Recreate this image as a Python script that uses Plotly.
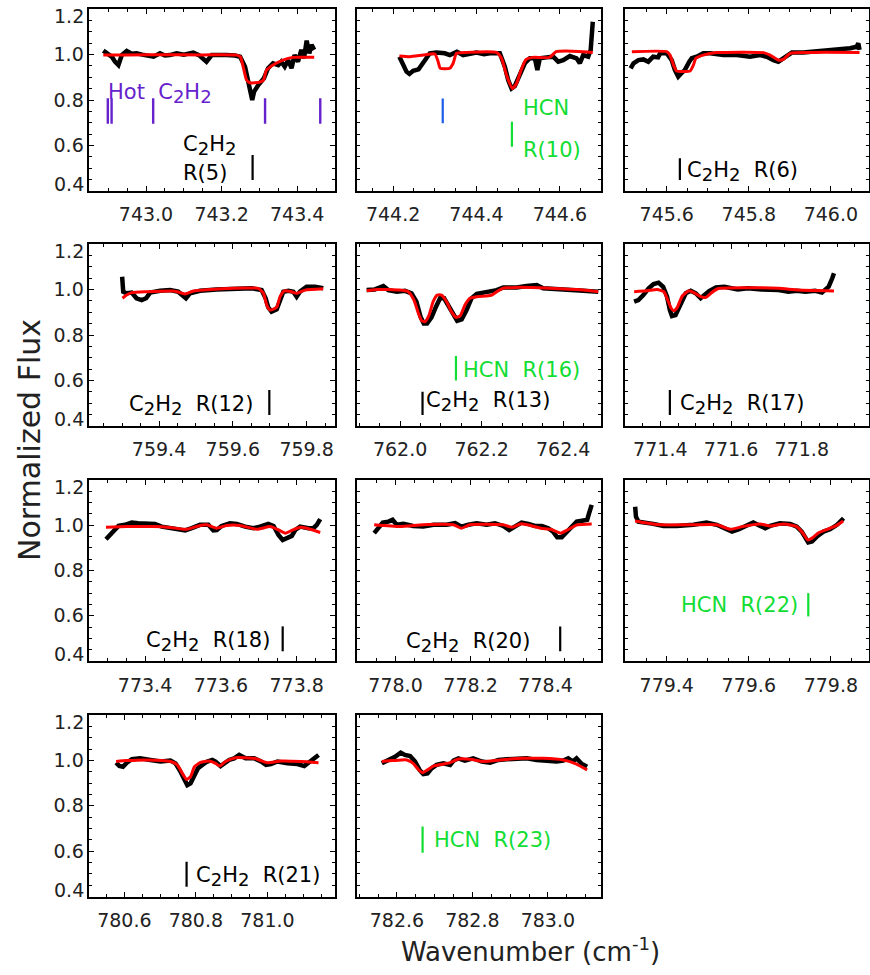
import plotly.graph_objects as go

# ---------------- data (wavenumber cm^-1, normalized flux) ----------------
p1_obs_x = [742.887, 742.893, 742.900, 742.910, 742.918, 742.927, 742.936, 742.949, 742.962, 742.975, 742.990, 743.002, 743.020, 743.037, 743.050, 743.063, 743.081, 743.100, 743.125, 743.140, 743.152, 743.160, 743.174, 743.195, 743.213, 743.235, 743.249, 743.262, 743.271, 743.277, 743.281, 743.286, 743.297, 743.312, 743.323, 743.336, 743.350, 743.358, 743.367, 743.376, 743.385, 743.393, 743.402, 743.411, 743.418, 743.425, 743.432, 743.438, 743.445]
p1_obs_y = [1.018, 1.010, 0.998, 0.990, 0.969, 0.954, 0.998, 1.016, 1.004, 1.006, 1.000, 0.998, 0.991, 1.006, 0.996, 0.998, 1.006, 1.000, 1.009, 0.998, 0.984, 0.969, 0.998, 1.000, 0.998, 0.996, 0.991, 0.947, 0.873, 0.829, 0.800, 0.837, 0.866, 0.896, 0.940, 0.962, 0.954, 0.969, 0.947, 0.976, 0.940, 0.998, 0.969, 1.021, 0.984, 1.062, 1.006, 1.043, 1.021]
p1_mod_x = [742.887, 742.950, 743.050, 743.150, 743.240, 743.250, 743.257, 743.266, 743.275, 743.300, 743.311, 743.318, 743.336, 743.362, 743.388, 743.445]
p1_mod_y = [0.998, 0.999, 1.000, 0.999, 0.998, 0.990, 0.947, 0.888, 0.876, 0.878, 0.888, 0.929, 0.954, 0.976, 0.988, 0.988]

p2_obs_x = [744.215, 744.225, 744.232, 744.239, 744.248, 744.261, 744.271, 744.281, 744.288, 744.304, 744.324, 744.336, 744.353, 744.368, 744.385, 744.400, 744.418, 744.432, 744.456, 744.468, 744.476, 744.484, 744.492, 744.504, 744.516, 744.528, 744.540, 744.546, 744.552, 744.568, 744.584, 744.596, 744.608, 744.624, 744.640, 744.648, 744.656, 744.668, 744.674, 744.679]
p2_obs_y = [0.991, 0.954, 0.925, 0.915, 0.929, 0.935, 0.962, 0.991, 1.006, 1.009, 1.006, 0.998, 1.013, 0.998, 1.004, 1.009, 1.002, 1.006, 1.006, 0.947, 0.888, 0.851, 0.862, 0.910, 0.962, 0.984, 0.984, 0.932, 0.984, 0.988, 0.991, 0.969, 0.976, 0.994, 0.984, 0.962, 0.998, 0.991, 1.021, 1.145]
p2_mod_x = [744.215, 744.240, 744.272, 744.300, 744.308, 744.313, 744.336, 744.344, 744.352, 744.376, 744.448, 744.460, 744.472, 744.486, 744.496, 744.507, 744.519, 744.535, 744.575, 744.591, 744.615, 744.679]
p2_mod_y = [0.994, 0.991, 0.998, 1.003, 0.969, 0.940, 0.940, 0.962, 1.006, 1.010, 1.010, 0.984, 0.910, 0.851, 0.873, 0.932, 0.979, 0.988, 0.988, 1.013, 1.016, 1.010]

p3_obs_x = [745.512, 745.519, 745.531, 745.543, 745.555, 745.567, 745.579, 745.584, 745.600, 745.612, 745.620, 745.628, 745.634, 745.644, 745.655, 745.661, 745.673, 745.689, 745.706, 745.738, 745.771, 745.803, 745.827, 745.844, 745.860, 745.872, 745.884, 745.905, 745.933, 745.958, 745.991, 746.023, 746.047, 746.063, 746.067, 746.070]
p3_obs_y = [0.940, 0.962, 0.976, 0.979, 0.969, 0.991, 0.988, 1.006, 1.006, 0.976, 0.932, 0.903, 0.915, 0.932, 0.969, 0.984, 0.991, 1.006, 1.006, 0.998, 0.998, 0.991, 0.998, 0.991, 0.976, 0.969, 0.984, 1.009, 1.009, 1.013, 1.021, 1.023, 1.028, 1.035, 1.050, 1.021]
p3_mod_x = [745.515, 745.600, 745.608, 745.618, 745.624, 745.657, 745.665, 745.671, 745.689, 745.722, 745.836, 745.852, 745.872, 745.884, 745.901, 745.950, 746.070]
p3_mod_y = [1.013, 1.013, 0.998, 0.947, 0.928, 0.928, 0.954, 0.984, 0.998, 1.009, 1.009, 0.998, 0.976, 0.979, 1.006, 1.010, 1.010]

p4_obs_x = [759.300, 759.303, 759.312, 759.326, 759.339, 759.353, 759.365, 759.376, 759.403, 759.430, 759.452, 759.464, 759.473, 759.484, 759.511, 759.556, 759.606, 759.651, 759.678, 759.689, 759.696, 759.705, 759.719, 759.728, 759.737, 759.751, 759.764, 759.773, 759.782, 759.800, 759.823, 759.845]
p4_obs_y = [1.057, 0.991, 0.984, 0.987, 0.962, 0.954, 0.962, 0.987, 0.995, 0.998, 0.991, 0.972, 0.962, 0.984, 0.995, 1.001, 1.006, 1.006, 0.998, 0.962, 0.922, 0.903, 0.913, 0.954, 0.991, 0.995, 0.991, 0.969, 0.991, 1.013, 1.013, 1.006]
p4_mod_x = [759.301, 759.312, 759.326, 759.366, 759.439, 759.457, 759.471, 759.493, 759.538, 759.628, 759.669, 759.683, 759.692, 759.701, 759.719, 759.728, 759.740, 759.759, 759.773, 759.796, 759.845]
p4_mod_y = [0.962, 0.976, 0.987, 0.991, 0.994, 0.987, 0.981, 0.994, 1.001, 1.007, 1.006, 0.984, 0.932, 0.910, 0.922, 0.969, 0.995, 0.991, 0.984, 0.998, 1.004]

p5_obs_x = [761.918, 761.938, 761.959, 761.971, 761.992, 762.012, 762.028, 762.040, 762.050, 762.058, 762.066, 762.077, 762.088, 762.098, 762.108, 762.118, 762.131, 762.140, 762.151, 762.163, 762.175, 762.188, 762.204, 762.220, 762.237, 762.253, 762.286, 762.310, 762.335, 762.351, 762.384, 762.416, 762.449, 762.486]
p5_obs_y = [0.998, 1.001, 1.016, 0.998, 0.991, 0.995, 0.984, 0.947, 0.881, 0.851, 0.851, 0.878, 0.925, 0.962, 0.962, 0.932, 0.888, 0.863, 0.869, 0.910, 0.962, 0.981, 0.987, 0.991, 0.998, 1.010, 1.010, 1.016, 1.020, 1.006, 1.001, 0.998, 0.995, 0.991]
p5_mod_x = [761.918, 761.942, 761.999, 762.020, 762.034, 762.045, 762.053, 762.061, 762.071, 762.081, 762.091, 762.102, 762.114, 762.126, 762.137, 762.147, 762.159, 762.171, 762.188, 762.212, 762.225, 762.237, 762.253, 762.286, 762.367, 762.449, 762.486]
p5_mod_y = [0.995, 1.001, 0.998, 0.991, 0.954, 0.895, 0.863, 0.859, 0.888, 0.947, 0.976, 0.976, 0.947, 0.903, 0.878, 0.884, 0.932, 0.962, 0.969, 0.972, 0.976, 0.991, 1.006, 1.010, 1.006, 0.998, 0.991]

p6_obs_x = [771.326, 771.338, 771.352, 771.367, 771.381, 771.395, 771.408, 771.419, 771.427, 771.433, 771.443, 771.457, 771.472, 771.486, 771.500, 771.514, 771.524, 771.538, 771.557, 771.581, 771.619, 771.648, 771.686, 771.734, 771.762, 771.786, 771.810, 771.838, 771.857, 771.876, 771.886, 771.891]
p6_obs_y = [0.947, 0.954, 0.976, 1.006, 1.025, 1.031, 1.013, 0.969, 0.910, 0.884, 0.888, 0.932, 0.984, 0.995, 0.984, 0.962, 0.976, 0.994, 1.010, 1.013, 1.001, 1.006, 1.001, 0.998, 0.991, 0.995, 0.991, 0.995, 0.987, 1.013, 1.050, 1.072]
p6_mod_x = [771.326, 771.362, 771.391, 771.410, 771.421, 771.431, 771.438, 771.448, 771.462, 771.481, 771.495, 771.514, 771.529, 771.543, 771.562, 771.638, 771.734, 771.791, 771.891]
p6_mod_y = [0.991, 0.995, 1.001, 0.991, 0.954, 0.917, 0.907, 0.922, 0.972, 0.995, 0.987, 0.969, 0.966, 0.984, 1.004, 1.008, 1.006, 0.998, 0.994]

p7_obs_x = [773.297, 773.308, 773.318, 773.330, 773.347, 773.365, 773.382, 773.404, 773.426, 773.444, 773.466, 773.484, 773.506, 773.523, 773.545, 773.567, 773.580, 773.589, 773.602, 773.624, 773.642, 773.664, 773.686, 773.703, 773.725, 773.739, 773.752, 773.763, 773.774, 773.787, 773.796, 773.809, 773.831, 773.844, 773.853, 773.862]
p7_obs_y = [0.938, 0.957, 0.972, 0.997, 1.002, 1.012, 1.009, 1.006, 1.006, 0.994, 0.987, 0.982, 0.977, 0.987, 1.002, 1.002, 0.977, 0.979, 0.997, 1.009, 1.006, 0.994, 0.987, 0.994, 1.006, 0.997, 0.957, 0.935, 0.943, 0.953, 0.979, 0.994, 0.987, 0.987, 1.002, 1.027]
p7_mod_x = [773.297, 773.352, 773.422, 773.466, 773.510, 773.545, 773.563, 773.589, 773.615, 773.651, 773.695, 773.730, 773.752, 773.770, 773.787, 773.809, 773.827, 773.862]
p7_mod_y = [0.991, 0.994, 0.994, 0.990, 0.982, 0.999, 1.002, 0.987, 0.999, 0.999, 0.982, 0.994, 0.979, 0.965, 0.977, 0.991, 0.987, 0.968]

p8_obs_x = [777.943, 777.954, 777.966, 777.981, 777.992, 778.003, 778.021, 778.047, 778.074, 778.101, 778.136, 778.159, 778.176, 778.194, 778.216, 778.243, 778.265, 778.287, 778.303, 778.318, 778.336, 778.354, 778.372, 778.390, 778.407, 778.420, 778.431, 778.443, 778.456, 778.470, 778.483, 778.501, 778.511, 778.516, 778.523]
p8_obs_y = [0.965, 0.987, 1.012, 1.016, 1.024, 1.002, 1.006, 0.997, 0.994, 1.002, 1.002, 1.009, 0.994, 1.002, 1.009, 1.002, 1.009, 0.997, 0.979, 0.994, 1.012, 1.006, 0.997, 0.997, 0.987, 0.972, 0.947, 0.947, 0.968, 0.997, 1.016, 1.021, 1.024, 1.053, 1.090]
p8_mod_x = [777.943, 778.012, 778.074, 778.154, 778.176, 778.198, 778.287, 778.311, 778.333, 778.360, 778.387, 778.414, 778.440, 778.458, 778.485, 778.523]
p8_mod_y = [1.002, 0.994, 1.002, 1.002, 0.987, 1.002, 1.002, 0.991, 1.006, 0.999, 0.987, 0.982, 0.965, 0.979, 1.002, 1.006]

p9_obs_x = [779.323, 779.325, 779.331, 779.351, 779.367, 779.392, 779.424, 779.465, 779.497, 779.522, 779.542, 779.559, 779.575, 779.595, 779.611, 779.628, 779.640, 779.652, 779.676, 779.701, 779.717, 779.729, 779.737, 779.745, 779.754, 779.766, 779.782, 779.798, 779.815, 779.827, 779.831]
p9_obs_y = [1.082, 1.038, 1.016, 1.012, 1.006, 0.997, 0.997, 1.002, 1.012, 1.002, 0.987, 0.972, 0.982, 0.997, 1.012, 0.997, 0.987, 0.997, 1.009, 1.006, 0.994, 0.972, 0.943, 0.924, 0.928, 0.950, 0.972, 0.982, 1.002, 1.024, 1.031]
p9_mod_x = [779.323, 779.343, 779.384, 779.465, 779.522, 779.555, 779.584, 779.628, 779.652, 779.685, 779.717, 779.732, 779.744, 779.754, 779.771, 779.791, 779.812, 779.830]
p9_mod_y = [1.019, 1.012, 1.002, 1.002, 1.002, 0.982, 0.994, 1.005, 0.997, 1.006, 0.994, 0.965, 0.935, 0.943, 0.968, 0.982, 0.997, 1.019]

p10_obs_x = [780.577, 780.586, 780.596, 780.607, 780.621, 780.644, 780.673, 780.701, 780.729, 780.743, 780.757, 780.768, 780.776, 780.785, 780.794, 780.806, 780.818, 780.832, 780.846, 780.855, 780.869, 780.879, 780.893, 780.907, 780.921, 780.939, 780.963, 780.982, 780.996, 781.010, 781.028, 781.056, 781.084, 781.103, 781.120, 781.134, 781.143]
p10_obs_y = [0.990, 0.975, 0.972, 0.990, 1.005, 1.009, 1.002, 0.995, 0.999, 0.987, 0.950, 0.913, 0.891, 0.899, 0.925, 0.965, 0.980, 0.995, 1.002, 0.995, 0.975, 0.987, 1.002, 1.009, 1.024, 1.009, 1.009, 0.995, 0.980, 0.984, 0.995, 0.987, 0.984, 0.975, 0.995, 1.016, 1.024]
p10_mod_x = [780.577, 780.607, 780.663, 780.729, 780.748, 780.762, 780.774, 780.785, 780.796, 780.813, 780.836, 780.855, 780.867, 780.883, 780.911, 780.963, 780.982, 781.000, 781.038, 781.094, 781.143]
p10_mod_y = [0.995, 0.999, 1.002, 0.995, 0.980, 0.943, 0.916, 0.928, 0.972, 0.991, 0.997, 0.987, 0.975, 0.995, 1.012, 1.009, 0.999, 0.990, 0.997, 0.995, 0.990]

p11_obs_x = [782.560, 782.577, 782.595, 782.610, 782.621, 782.635, 782.648, 782.660, 782.670, 782.681, 782.692, 782.705, 782.723, 782.741, 782.750, 782.763, 782.780, 782.802, 782.825, 782.847, 782.869, 782.891, 782.917, 782.944, 782.970, 782.997, 783.023, 783.041, 783.054, 783.066, 783.076, 783.090, 783.104]
p11_obs_y = [0.987, 0.999, 1.016, 1.034, 1.024, 1.019, 0.995, 0.958, 0.940, 0.943, 0.965, 0.980, 0.987, 0.980, 0.999, 1.009, 0.999, 1.009, 0.995, 0.990, 1.002, 1.005, 1.009, 1.009, 1.002, 0.999, 0.995, 0.999, 1.009, 0.995, 1.009, 0.984, 0.972]
p11_mod_x = [782.560, 782.590, 782.626, 782.643, 782.656, 782.668, 782.681, 782.696, 782.723, 782.741, 782.763, 782.794, 782.829, 782.874, 782.935, 782.987, 783.041, 783.076, 783.104]
p11_mod_y = [0.995, 0.999, 1.002, 0.987, 0.961, 0.946, 0.958, 0.975, 0.984, 0.990, 1.006, 1.005, 0.995, 1.002, 1.009, 1.009, 1.002, 0.984, 0.958]

# axis ranges (cm^-1)
x_ranges = [
    [742.85, 743.50], [744.114, 744.698], [745.499, 746.093],
    [759.211, 759.877], [761.895, 762.492], [771.301, 771.99],
    [773.253, 773.901], [777.898, 778.547], [779.299, 779.893],
    [780.502, 781.189], [782.495, 783.140],
]
y_range = [0.4, 1.2]
y_ticks = [0.4, 0.6, 0.8, 1.0, 1.2]

# line identifications (wavenumber of marker)
hot_c2h2_lines = [742.899, 742.909, 743.019, 743.315, 743.461]
c2h2_lines = {1: 743.282, 3: 745.632, 4: 759.699, 5: 762.055, 6: 771.427,
              7: 773.763, 8: 778.439, 10: 780.774}
hcn_lines = {2: 744.485, 5: 762.137, 9: 779.745, 11: 782.668}
blue_lines = {2: 744.319}

# ---------------- styling / layout ----------------
W, H = 870, 975
cols_px = [(89.3, 335.0), (357.3, 600.7), (625.3, 869.0)]
rows_px = [(9.3, 190.7), (244.3, 425.7), (480.0, 661.0), (715.0, 896.5)]
FONT = "DejaVu Sans"
TICK_SIZE = 19
LAB_SIZE = 21
SUB_SIZE = 18
TXT = "#222222"
BLACK = "#000000"
RED = "#ff0000"
GREEN = "#11dd33"
BLUE = "#1a5ce8"
PURPLE = "#6622cc"

obs = [(p1_obs_x, p1_obs_y), (p2_obs_x, p2_obs_y), (p3_obs_x, p3_obs_y),
       (p4_obs_x, p4_obs_y), (p5_obs_x, p5_obs_y), (p6_obs_x, p6_obs_y),
       (p7_obs_x, p7_obs_y), (p8_obs_x, p8_obs_y), (p9_obs_x, p9_obs_y),
       (p10_obs_x, p10_obs_y), (p11_obs_x, p11_obs_y)]
mods = [(p1_mod_x, p1_mod_y), (p2_mod_x, p2_mod_y), (p3_mod_x, p3_mod_y),
        (p4_mod_x, p4_mod_y), (p5_mod_x, p5_mod_y), (p6_mod_x, p6_mod_y),
        (p7_mod_x, p7_mod_y), (p8_mod_x, p8_mod_y), (p9_mod_x, p9_mod_y),
        (p10_mod_x, p10_mod_y), (p11_mod_x, p11_mod_y)]

fig = go.Figure()
layout = dict(width=W, height=H, margin=dict(l=0, r=0, t=0, b=0),
              paper_bgcolor="white", plot_bgcolor="white", showlegend=False,
              font=dict(family=FONT, color=TXT, size=TICK_SIZE))
annotations = []
shapes = []

def ax(i):
    return ("x" if i == 1 else f"x{i}"), ("y" if i == 1 else f"y{i}")

for idx in range(11):
    i = idx + 1
    r, c = divmod(idx, 3)
    xa, ya = ax(i)
    x0, x1 = cols_px[c]
    y0, y1 = rows_px[r]
    common = dict(showline=True, linecolor="black", linewidth=1.5, mirror="allticks",
                  ticks="inside", ticklen=5, tickwidth=1.3, tickcolor="black",
                  showgrid=False, zeroline=False,
                  tickfont=dict(family=FONT, size=TICK_SIZE, color=TXT))
    layout["xaxis" if i == 1 else f"xaxis{i}"] = dict(
        common, domain=[x0 / W, x1 / W], range=x_ranges[idx], anchor=ya,
        tick0=0, dtick=0.2, tickformat=".1f",
        minor=dict(dtick=0.05, tick0=0, ticks="inside", ticklen=3, tickwidth=1, tickcolor="black"),
        ticklabelstandoff=6)
    layout["yaxis" if i == 1 else f"yaxis{i}"] = dict(
        common, domain=[1 - y1 / H, 1 - y0 / H], range=y_range, anchor=xa,
        tickvals=y_ticks,
        ticktext=["", "0.6", "0.8", "1.0", ""] if c == 0 else ["", "", "", "", ""],
        showticklabels=(c == 0),
        minor=dict(dtick=0.05, tick0=0, ticks="inside", ticklen=3, tickwidth=1, tickcolor="black"))
    if c == 0:
        for val, ypos in (("1.2", 1.17), ("0.4", 0.43)):
            annotations.append(dict(text=val, xref="paper", x=(x0 - 3) / W, xanchor="right",
                                    yref=ya, y=ypos, yanchor="middle", showarrow=False,
                                    font=dict(family=FONT, size=TICK_SIZE, color=TXT)))
    ox, oy = obs[idx]
    mx, my = mods[idx]
    fig.add_trace(go.Scatter(x=ox, y=oy, mode="lines", xaxis=xa, yaxis=ya,
                             line=dict(color=BLACK, width=4.5)))
    fig.add_trace(go.Scatter(x=mx, y=my, mode="lines", xaxis=xa, yaxis=ya,
                             line=dict(color=RED, width=3, shape="spline", smoothing=0.5)))

def vline(i, x, ylo, yhi, color, width=2.2):
    xa, ya = ax(i)
    shapes.append(dict(type="line", xref=xa, yref=ya, x0=x, x1=x, y0=ylo, y1=yhi,
                       line=dict(color=color, width=width)))

def label(i, text, x, y, color, xanchor="left", yanchor="middle"):
    xa, ya = ax(i)
    annotations.append(dict(text=text, xref=xa, yref=ya, x=x, y=y, xanchor=xanchor,
                            yanchor=yanchor, showarrow=False,
                            font=dict(family=FONT, size=LAB_SIZE, color=color)))

S2 = f'<sub><span style="font-size:{SUB_SIZE}px">2</span></sub>'
C2H2 = "C" + S2 + "H" + S2

# panel 1
for xv in hot_c2h2_lines:
    vline(1, xv, 0.695, 0.808, PURPLE, 2.4)
label(1, "Hot  " + C2H2, 742.893, 0.83, PURPLE)
label(1, C2H2, 743.169, 0.60, BLACK, xanchor="center")
label(1, "R(5)", 743.156, 0.478, BLACK, xanchor="center")
vline(1, c2h2_lines[1], 0.447, 0.557, BLACK)
# panel 2
vline(2, blue_lines[2], 0.697, 0.807, BLUE)
vline(2, hcn_lines[2], 0.594, 0.704, GREEN)
label(2, "HCN", 744.506, 0.763, GREEN)
label(2, "R(10)", 744.506, 0.579, GREEN)
# panel 3
vline(3, c2h2_lines[3], 0.447, 0.543, BLACK)
label(3, C2H2 + "&nbsp; R(6)", 745.645, 0.485, BLACK)
# panel 4
vline(4, c2h2_lines[4], 0.447, 0.557, BLACK)
label(4, C2H2 + "&nbsp; R(12)", 759.660, 0.49, BLACK, xanchor="right")
# panel 5
vline(5, hcn_lines[5], 0.599, 0.707, GREEN)
label(5, "HCN&nbsp; R(16)", 762.150, 0.645, GREEN)
vline(5, c2h2_lines[5], 0.447, 0.550, BLACK)
label(5, C2H2 + "&nbsp; R(13)", 762.058, 0.505, BLACK)
# panel 6
vline(6, c2h2_lines[6], 0.447, 0.557, BLACK)
label(6, C2H2 + "&nbsp; R(17)", 771.450, 0.492, BLACK)
# panel 7
vline(7, c2h2_lines[7], 0.443, 0.553, BLACK)
label(7, C2H2 + "&nbsp; R(18)", 773.735, 0.485, BLACK, xanchor="right")
# panel 8
vline(8, c2h2_lines[8], 0.443, 0.553, BLACK)
label(8, C2H2 + "&nbsp; R(20)", 778.365, 0.48, BLACK, xanchor="right")
# panel 9
vline(9, hcn_lines[9], 0.597, 0.700, GREEN)
label(9, "HCN&nbsp; R(22)", 779.724, 0.646, GREEN, xanchor="right")
# panel 10
vline(10, c2h2_lines[10], 0.443, 0.553, BLACK)
label(10, C2H2 + "&nbsp; R(21)", 780.795, 0.487, BLACK)
# panel 11
vline(11, hcn_lines[11], 0.593, 0.708, GREEN)
label(11, "HCN&nbsp; R(23)", 782.693, 0.649, GREEN)

# axis titles
annotations.append(dict(text="Normalized Flux", xref="paper", yref="paper",
                        x=30 / W, y=1 - 440 / H, textangle=-90, showarrow=False,
                        xanchor="center", yanchor="middle",
                        font=dict(family=FONT, size=30, color=TXT)))
annotations.append(dict(text="Wavenumber (cm<sup>-1</sup>)", xref="paper", yref="paper",
                        x=530 / W, y=1 - 950 / H, showarrow=False,
                        xanchor="center", yanchor="middle",
                        font=dict(family=FONT, size=26, color=TXT)))

layout["annotations"] = annotations
layout["shapes"] = shapes
fig.update_layout(**layout)
fig.write_html("out.html")
